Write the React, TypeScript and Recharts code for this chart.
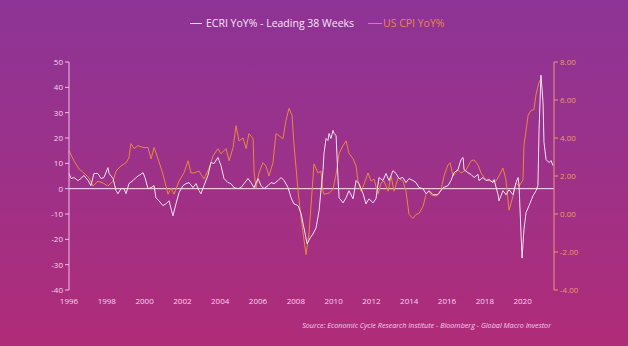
import React from 'react'
import { LineChart, Line, XAxis, YAxis, ReferenceLine } from 'recharts'

// ECRI YoY% (leading 38 weeks), left axis
const ecriYears = [
  1996.0, 1996.11, 1996.26, 1996.48, 1996.63, 1996.79, 1997.01, 1997.16, 1997.32, 1997.53, 1997.69, 1997.85,
  1998.06, 1998.12, 1998.33, 1998.49, 1998.59, 1998.75, 1998.91, 1999.02, 1999.17, 1999.39, 1999.54, 1999.7,
  1999.92, 2000.02, 2000.18, 2000.34, 2000.5, 2000.6, 2000.76, 2000.97, 2001.13, 2001.29, 2001.5, 2001.66,
  2001.82, 2002.03, 2002.19, 2002.35, 2002.56, 2002.72, 2002.88, 2002.98, 2003.14, 2003.35, 2003.51, 2003.67,
  2003.88, 2003.94, 2004.04, 2004.2, 2004.41, 2004.57, 2004.73, 2004.94, 2005.1, 2005.26, 2005.47, 2005.63,
  2005.79, 2006.0, 2006.16, 2006.32, 2006.53, 2006.69, 2006.85, 2007.06, 2007.22, 2007.38, 2007.59, 2007.75,
  2007.9, 2008.12, 2008.28, 2008.43, 2008.6, 2008.76, 2008.91, 2009.07, 2009.23, 2009.33, 2009.44, 2009.49,
  2009.6, 2009.7, 2009.76, 2009.86, 2009.97, 2010.02, 2010.13, 2010.23, 2010.29, 2010.5, 2010.66, 2010.81,
  2011.03, 2011.19, 2011.34, 2011.56, 2011.71, 2011.87, 2012.08, 2012.24, 2012.4, 2012.61, 2012.77, 2012.93,
  2013.14, 2013.3, 2013.46, 2013.67, 2013.83, 2013.99, 2014.2, 2014.36, 2014.52, 2014.73, 2014.89, 2015.05,
  2015.26, 2015.52, 2015.79, 2016.05, 2016.21, 2016.37, 2016.58, 2016.74, 2016.85, 2016.9, 2017.11, 2017.27,
  2017.43, 2017.64, 2017.69, 2017.9, 2018.06, 2018.22, 2018.43, 2018.49, 2018.7, 2018.75, 2018.96, 2019.12,
  2019.28, 2019.49, 2019.65, 2019.76, 2019.81, 2019.92, 2019.97, 2020.07, 2020.18, 2020.34, 2020.55, 2020.71,
  2020.81, 2020.87, 2020.97, 2021.08, 2021.13, 2021.24, 2021.4, 2021.5, 2021.61,
]
const ecriValues = [
  6.0, 4.0, 4.4, 3.2, 4.0, 5.2, 3.2, 1.2, 6.0, 6.0, 4.0, 4.4,
  8.3, 6.0, 4.0, -0.8, -2.0, 0, 0, -2.0, 2.0, 3.2, 4.4, 5.2,
  6.3, 4.4, 0, 0.4, 1.2, -3.6, -4.8, -6.7, -6.0, -4.8, -10.7, -6.0,
  -1.6, 1.2, 2.0, 2.4, 0.4, 2.0, -0.8, -2.0, 1.2, 5.2, 10.3, 9.9,
  12.3, 11.1, 9.1, 4.0, 2.4, 2.0, 0.4, 0, 0.4, 2.0, 4.0, 2.4,
  0.4, 4.0, 1.2, 0, 1.2, 2.4, 2.0, 3.2, 4.4, 3.2, 0.4, -3.6,
  -6.0, -6.7, -9.9, -15.5, -21.8, -19.4, -17.9, -15.5, -8.7, -0.8, 7.1, 13.9,
  19.8, 19.0, 21.8, 19.8, 23.0, 21.8, 21.0, 4.4, -3.6, -5.6, -3.6, -0.8,
  -4.0, 3.2, 2.0, -2.0, -6.0, -4.0, -5.6, -4.0, 4.4, 3.2, 6.0, 3.2,
  7.1, 6.0, 4.0, 4.4, 2.4, 4.0, 3.2, 2.4, 0.4, 0, -2.0, -0.8,
  -2.4, -2.4, 0.4, 1.2, 3.2, 6.3, 7.5, 11.5, 12.3, 7.5, 6.3, 5.6,
  4.4, 5.6, 3.2, 4.4, 3.2, 3.6, 2.4, 3.6, -2.4, -4.8, -0.8, -2.4,
  -0.4, -2.4, 2.4, 4.4, 1.2, -18.7, -27.4, -16.3, -9.5, -6.7, -2.8, -0.8,
  1.2, 23.4, 44.8, 34.1, 18.3, 11.5, 10.3, 11.1, 9.1,
]

// US CPI YoY%, right axis
const cpiYears = [
  1996.0, 1996.26, 1996.53, 1996.79, 1997.06, 1997.27, 1997.53, 1997.8, 1998.06, 1998.33, 1998.49, 1998.75,
  1999.02, 1999.17, 1999.28, 1999.44, 1999.65, 1999.92, 2000.18, 2000.34, 2000.5, 2000.71, 2000.97, 2001.24,
  2001.4, 2001.56, 2001.82, 2002.08, 2002.3, 2002.45, 2002.61, 2002.88, 2003.14, 2003.41, 2003.62, 2003.88,
  2004.04, 2004.31, 2004.47, 2004.68, 2004.84, 2004.99, 2005.21, 2005.37, 2005.52, 2005.74, 2005.79, 2005.89,
  2006.05, 2006.26, 2006.42, 2006.58, 2006.79, 2006.95, 2007.11, 2007.32, 2007.48, 2007.64, 2007.8, 2007.9,
  2008.12, 2008.28, 2008.54, 2008.7, 2008.91, 2008.96, 2009.17, 2009.33, 2009.44, 2009.49, 2009.76, 2009.97,
  2010.13, 2010.29, 2010.5, 2010.66, 2010.81, 2011.03, 2011.19, 2011.29, 2011.45, 2011.61, 2011.82, 2011.98,
  2012.14, 2012.35, 2012.51, 2012.67, 2012.88, 2013.04, 2013.2, 2013.41, 2013.67, 2013.83, 2013.99, 2014.2,
  2014.36, 2014.52, 2014.73, 2014.89, 2015.05, 2015.16, 2015.42, 2015.68, 2015.84, 2016.05, 2016.16, 2016.32,
  2016.58, 2016.74, 2017.01, 2017.27, 2017.43, 2017.64, 2017.8, 2018.06, 2018.33, 2018.59, 2018.75, 2018.96,
  2019.12, 2019.28, 2019.49, 2019.65, 2019.81, 2020.02, 2020.07, 2020.29, 2020.44, 2020.6, 2020.71, 2020.87,
  2020.97,
]
const cpiValues = [
  3.33, 2.8, 2.37, 2.16, 1.9, 1.47, 1.73, 1.63, 1.47, 1.73, 2.26, 2.53,
  2.7, 2.96, 3.7, 3.44, 3.6, 3.5, 3.5, 2.9, 3.5, 2.9, 2.1, 1.04,
  1.36, 1.04, 1.73, 2.16, 2.8, 2.16, 2.16, 2.26, 1.84, 2.42, 3.06, 3.44,
  3.17, 3.44, 2.8, 3.5, 4.65, 3.85, 4.0, 3.44, 4.23, 3.96, 2.26, 1.36,
  2.16, 2.7, 2.53, 2.0, 2.7, 4.23, 4.12, 3.96, 4.92, 5.56, 5.19, 3.7,
  1.2, -0.23, -2.14, -1.0, 1.9, 2.64, 2.16, 2.26, 1.2, 1.04, 1.1, 1.3,
  2.1, 3.2, 3.6, 3.85, 3.2, 2.9, 2.53, 1.73, 1.2, 1.57, 2.16, 1.73,
  1.84, 1.04, 1.63, 1.73, 1.2, 2.0, 1.2, 1.9, 1.73, 1.2, -0.02, -0.23,
  -0.02, 0.03, 0.4, 1.04, 1.2, 1.0, 0.94, 1.25, 2.0, 2.58, 2.7, 2.0,
  2.32, 2.16, 2.32, 2.8, 2.85, 2.58, 2.16, 1.79, 1.73, 1.73, 2.0, 2.42,
  1.79, 0.2, 0.94, 1.63, 1.47, 1.79, 3.6, 5.19, 5.45, 5.5, 6.3, 6.94,
  7.1,
]

const xTicks = [1996, 1998, 2000, 2002, 2004, 2006, 2008, 2010, 2012, 2014, 2016, 2018, 2020]
const leftTicks = [-40, -30, -20, -10, 0, 10, 20, 30, 40, 50]
const rightTicks = [-4, -2, 0, 2, 4, 6, 8]

const ECRI_COLOR = '#f6e4f4'
const CPI_COLOR = '#e8883e'
const FONT = '"Open Sans", "Noto Sans", sans-serif'

const ecriData = ecriYears.map((x, i) => ({ x, v: ecriValues[i] }))
const cpiData = cpiYears.map((x, i) => ({ x, v: cpiValues[i] }))

export default function App() {
  return (
    <div
      style={{
        position: 'absolute',
        left: 0,
        top: 0,
        width: 628,
        height: 346,
        background: 'linear-gradient(180deg, #8d3496 0%, #9d3188 50%, #b02c78 100%)',
        fontFamily: FONT,
      }}
    >
      {/* legend */}
      <div style={{ position: 'absolute', top: 16, left: 190, fontSize: 10.5, color: ECRI_COLOR, display: 'flex', alignItems: 'center' }}>
        <span style={{ display: 'inline-block', width: 12, height: 1, background: ECRI_COLOR, marginRight: 4 }} />
        ECRI YoY% - Leading 38 Weeks
      </div>
      <div style={{ position: 'absolute', top: 16, left: 368, fontSize: 10.5, color: CPI_COLOR, display: 'flex', alignItems: 'center' }}>
        <span style={{ display: 'inline-block', width: 14, height: 1, background: CPI_COLOR, marginRight: 1 }} />
        US CPI YoY%
      </div>

      <LineChart width={628} height={346} margin={{ top: 62, right: 34, left: 29, bottom: 36 }}>
        <XAxis
          dataKey="x"
          type="number"
          domain={[1996, 2021.66]}
          ticks={xTicks}
          axisLine={false}
          tickLine={false}
          tick={{ fill: '#f3d6ef', fontSize: 8, fontFamily: FONT }}
          height={20}
          allowDuplicatedCategory={false}
        />
        <YAxis
          yAxisId="left"
          domain={[-40, 50]}
          ticks={leftTicks}
          width={40}
          axisLine={{ stroke: '#f0bdea' }}
          tickLine={{ stroke: '#f0bdea' }}
          tickSize={4}
          tick={{ fill: '#f3d6ef', fontSize: 8, fontFamily: FONT }}
        />
        <YAxis
          yAxisId="right"
          orientation="right"
          domain={[-4, 8]}
          ticks={rightTicks}
          width={40}
          axisLine={{ stroke: '#e89a76' }}
          tickLine={{ stroke: '#e89a76' }}
          tickSize={4}
          tickFormatter={(v: number) => v.toFixed(2)}
          tick={{ fill: '#e99a78', fontSize: 8, fontFamily: FONT }}
        />
        <ReferenceLine yAxisId="left" y={0} stroke="#f8e8f6" strokeWidth={1} />
        <Line
          yAxisId="right"
          data={cpiData}
          dataKey="v"
          type="linear"
          stroke={CPI_COLOR}
          strokeWidth={1}
          dot={false}
          isAnimationActive={false}
        />
        <Line
          yAxisId="left"
          data={ecriData}
          dataKey="v"
          type="linear"
          stroke={ECRI_COLOR}
          strokeWidth={1}
          dot={false}
          isAnimationActive={false}
        />
      </LineChart>

      <div
        style={{
          position: 'absolute',
          top: 320,
          right: 77,
          fontSize: 7.2,
          fontStyle: 'italic',
          color: '#f3d0ec',
        }}
      >
        Source: Economic Cycle Research Institute - Bloomberg - Global Macro Investor
      </div>
    </div>
  )
}
